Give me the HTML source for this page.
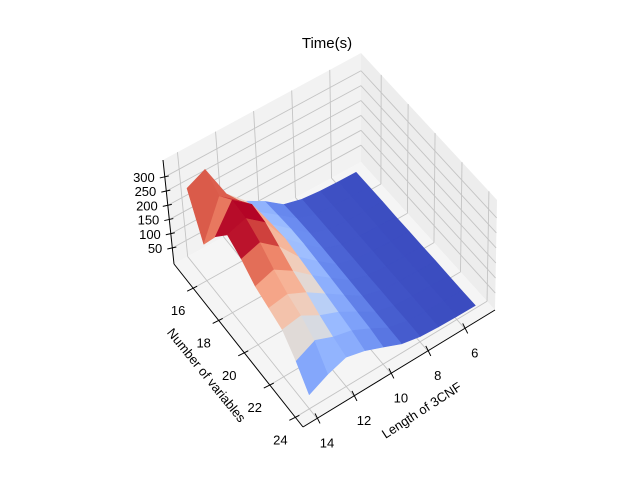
<!DOCTYPE html>
<html><head><meta charset="utf-8"><style>
body{margin:0;background:#fff;}
svg{display:block;font-family:"Liberation Sans","DejaVu Sans",sans-serif;}
</style></head><body>
<svg id="chart" width="640" height="480" viewBox="0 0 640 480" xmlns="http://www.w3.org/2000/svg">
<rect width="640" height="480" fill="#fff"/>
<text x="327" y="48" font-size="15" text-anchor="middle">Time(s)</text>
<g id="panes"></g><g id="grid"></g><g id="surf"></g><g id="axes"></g>
<text x="0" y="0" font-size="13" text-anchor="middle" transform="translate(203,378) rotate(51)">Number of variables</text>
<text x="0" y="0" font-size="13" text-anchor="middle" transform="translate(424,414) rotate(-33)">Length of 3CNF</text>
</svg>
<script>
const lengths=[5,6,7,8,9,10,11,12,13,14];
const variables=[15,16,17,18,19,20,21,22,23,24];
const times=[
[5,6,8,14,30,75,110,170,290,260],
[5,6,8,14,34,80,125,200,250,120],
[5,6,8,14,36,85,135,240,290,200],
[4,6,8,14,36,85,140,230,280,260],
[4,5,8,14,34,80,130,200,250,230],
[4,5,7,13,32,75,120,170,210,190],
[4,5,7,13,30,70,110,150,180,170],
[3,5,7,12,28,65,100,125,160,150],
[3,5,6,12,26,60,90,105,130,100],
[3,4,6,11,24,50,75,90,70,40]];
const lenTicks=[6,8,10,12,14];
const varTicks=[16,18,20,22,24];
const zTicks=[50,100,150,200,250,300];

const LMIN=4.36,LMAX=14.76,VMIN=14.5,VMAX=24.6,ZMIN=-6.4,ZMAX=359.6;
const FB=[361,162],FL=[174,264],FR=[495,310],FF=[303,427];
const TB=[361,53],TL=[163,160],TR=[497,200],TF=[302,315];
function bil(B,L,R,F,u,v){return [0,1].map(k=>B[k]+u*(L[k]-B[k])+v*(R[k]-B[k])+u*v*(F[k]-L[k]-R[k]+B[k]));}
function P(u,v,w){const a=bil(FB,FL,FR,FF,u,v),b=bil(TB,TL,TR,TF,u,v);return [a[0]+w*(b[0]-a[0]),a[1]+w*(b[1]-a[1])];}
const uS=l=>(l-LMIN)/(LMAX-LMIN), vS=n=>(n-VMIN)/(VMAX-VMIN), wS=z=>(z-ZMIN)/(ZMAX-ZMIN);
const NS='http://www.w3.org/2000/svg';
function mk(tag,attrs,parent){const e=document.createElementNS(NS,tag);for(const k in attrs)e.setAttribute(k,attrs[k]);document.getElementById(parent).appendChild(e);return e;}
const pts=a=>a.map(p=>p[0].toFixed(1)+','+p[1].toFixed(1)).join(' ');
let e;
e=mk('polygon',{points:pts([P(0,0,0),P(1,0,0),P(1,0,1),P(0,0,1)]),fill:'#f2f2f2'},'panes');


e=mk('polygon',{points:pts([P(0,0,0),P(0,1,0),P(0,1,1),P(0,0,1)]),fill:'#ededed'},'panes');


e=mk('polygon',{points:pts([P(0,0,0),P(1,0,0),P(1,1,0),P(0,1,0)]),fill:'#f5f5f5'},'panes');


function gl(a,b,name){const l=mk('line',{x1:a[0],y1:a[1],x2:b[0],y2:b[1],stroke:'#c4c4c4','stroke-width':0.9},'grid');}
lenTicks.forEach(t=>{const u=uS(t);gl(P(u,0,0),P(u,1,0),'grid-len');gl(P(u,0,0),P(u,0,1),'grid-len-wall');});
varTicks.forEach(t=>{const v=vS(t);gl(P(0,v,0),P(1,v,0),'grid-var');gl(P(0,v,0),P(0,v,1),'grid-var-wall');});
zTicks.forEach(t=>{const w=wS(t);gl(P(1,0,w),P(0,0,w),'grid-z-left');gl(P(0,0,w),P(0,1,w),'grid-z-right');});
const cm=[[0,59,76,192],[0.1,79,105,217],[0.2,103,136,238],[0.3,128,163,250],[0.4,154,187,255],[0.45,178,204,251],[0.5,221,220,220],[0.6,242,203,183],[0.7,247,172,142],[0.8,238,132,104],[0.9,214,82,68],[1,180,4,38]];
function cmap(t){t=Math.max(0,Math.min(1,t));for(let i=1;i<cm.length;i++){if(t<=cm[i][0]){const a=cm[i-1],b=cm[i],f=(t-a[0])/(b[0]-a[0]);return [1,2,3].map(k=>Math.round(a[k]+f*(b[k]-a[k])));}}return cm[cm.length-1].slice(1);}
const faces=[];
for(let i=0;i<variables.length-1;i++)for(let j=0;j<lengths.length-1;j++){
 const c=[[i,j],[i,j+1],[i+1,j+1],[i+1,j]];
 const q=c.map(([a,b])=>[uS(lengths[b]),vS(variables[a]),wS(times[a][b])]);
 const zm=c.reduce((s,[a,b])=>s+times[a][b],0)/4;
 const depth=q.reduce((s,p)=>s+p[0]+p[1]+0.8*p[2],0);
 faces.push({q,zm,depth});
}
faces.sort((a,b)=>a.depth-b.depth);
let fmin=Infinity,fmax=-Infinity;faces.forEach(f=>{fmin=Math.min(fmin,f.zm);fmax=Math.max(fmax,f.zm);});
faces.forEach(f=>{const col=cmap((f.zm-fmin)/(fmax-fmin));const s='rgb('+col.join(',')+')';
 const p=mk('polygon',{points:pts(f.q.map(p=>P(p[0],p[1],p[2]))),fill:s,stroke:s,'stroke-width':0.6,'stroke-linejoin':'round'},'surf');
 
 });
function al(a,b,name,w){const l=mk('line',{x1:a[0],y1:a[1],x2:b[0],y2:b[1],stroke:'#000','stroke-width':w||1},'axes');}
al(P(1,0,0),P(1,0,1),'z-axis-line');
al(P(1,0,0),P(1,1,0),'y-axis-line');
al(P(1,1,0),P(0,1,0),'x-axis-line');
function tx(x,y,s,anchor,name){const t=mk('text',{x:x,y:y,'font-size':13,'text-anchor':anchor},'axes');t.textContent=s;}
zTicks.forEach(t=>{const w=wS(t);const a=P(1,0,w);al([a[0]-5,a[1]+1],[a[0]+4,a[1]-1],'z-tick');tx(a[0]-10,a[1]+5,String(t),'end','z-tick-label');});
varTicks.forEach(t=>{const v=vS(t);const a=P(1,v,0);al([a[0]-6,a[1]+3],[a[0]+4,a[1]-2],'y-tick');tx(a[0]-15,a[1]+27,String(t),'middle','y-tick-label');});
lenTicks.forEach(t=>{const u=uS(t);const a=P(u,1,0);al([a[0]-2,a[1]-5],[a[0]+3,a[1]+5],'x-tick');tx(a[0]+10,a[1]+29,String(t),'middle','x-tick-label');});
</script>
</body></html>
